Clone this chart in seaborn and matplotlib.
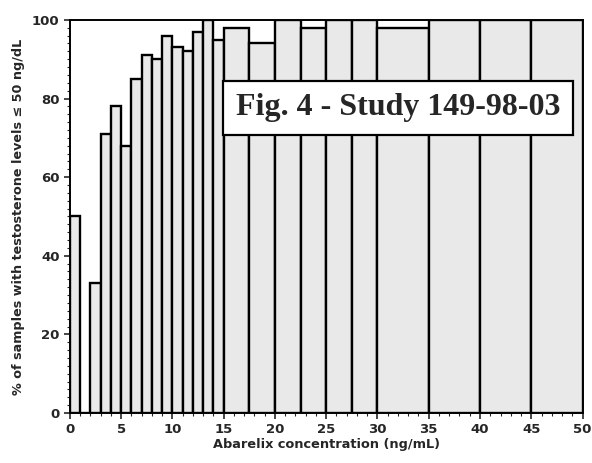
import matplotlib
matplotlib.use("Agg")
import matplotlib.pyplot as plt
from matplotlib.ticker import MultipleLocator
import seaborn as sns
import numpy as np

# bin edges (ng/mL) and % of samples in each bin
bin_edges = [0, 1, 2, 3, 4, 5, 6, 7, 8, 9, 10, 11, 12, 13, 14, 15,
             17.5, 20, 22.5, 25, 27.5, 30, 35, 40, 45, 50]
bin_left = [0, 2, 3, 4, 5, 6, 7, 8, 9, 10, 11, 12, 13, 14,
            15, 17.5, 20, 22.5, 25, 27.5, 30, 35, 40, 45]
pct = [50, 33, 71, 78, 68, 85, 91, 90, 96, 93, 92, 97, 100, 95,
       98, 94, 100, 98, 100, 100, 98, 100, 100, 100]

sns.set_theme(style="ticks")
plt.rcParams['font.family'] = ['DejaVu Sans']

fig = plt.figure(figsize=(5.92, 4.63), dpi=100)
ax = fig.add_axes([0.118, 0.108, 0.866, 0.849])

mid = [l + 0.01 for l in bin_left]
sns.histplot(x=mid, weights=pct, bins=bin_edges, ax=ax,
             color="#e9e9e9", edgecolor="black", linewidth=1.7, alpha=1)

ax.set_xlim(0, 50)
ax.set_ylim(0, 100)
ax.xaxis.set_major_locator(MultipleLocator(5))
ax.xaxis.set_minor_locator(MultipleLocator(1))
ax.yaxis.set_major_locator(MultipleLocator(20))
ax.yaxis.set_minor_locator(MultipleLocator(2))
ax.tick_params(which='major', length=4, width=1.2, labelsize=9.5)
ax.tick_params(which='minor', length=2, width=0.8)
for lab in ax.get_xticklabels() + ax.get_yticklabels():
    lab.set_fontweight('bold')
for s in ax.spines.values():
    s.set_linewidth(1.4)
    s.set_color('black')

ax.set_xlabel("Abarelix concentration (ng/mL)", fontsize=9.3, fontweight='bold', labelpad=1)
ax.set_ylabel("% of samples with testosterone levels ≤ 50 ng/dL", fontsize=9.2,
              fontweight='bold', labelpad=5)

ax.text(32.0, 77.6, "Fig. 4 - Study 149-98-03", fontsize=23, fontweight='bold',
        family=['Liberation Serif', 'DejaVu Serif'], ha='center', va='center',
        bbox=dict(boxstyle='square,pad=0.4', facecolor='white', edgecolor='black', linewidth=1.6))

fig.savefig("out.png", dpi=100)
